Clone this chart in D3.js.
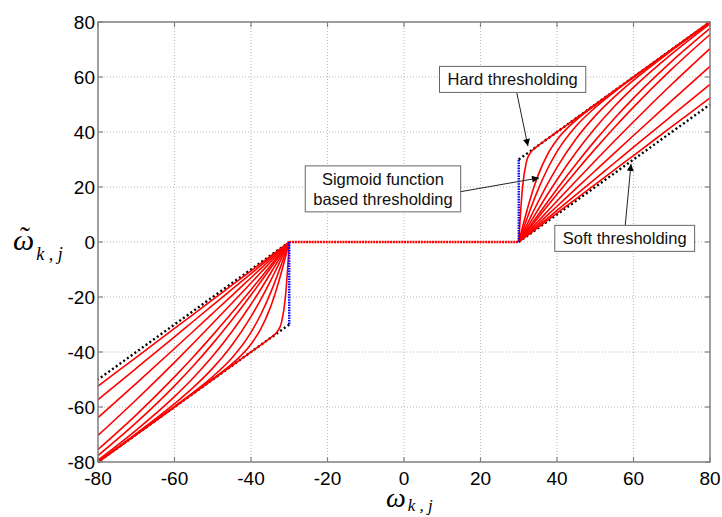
<!DOCTYPE html>
<html>
<head>
<meta charset="utf-8">
<script src="https://cdn.jsdelivr.net/npm/d3@7"></script>
<style>
  body { margin: 0; background: #fff; }
  svg { display: block; }
</style>
</head>
<body>
<div id="chart"></div>
<script>
// Valores (metade positiva; a metade negativa é o espelho)
const tickValues = [-80, -60, -40, -20, 0, 20, 40, 60, 80];
const sampleX = [30, 30.5, 31, 32, 33, 34, 35, 37.5, 40, 45, 50, 55, 60, 70, 80];

const sigmoid1 = [0, 11.25, 20.05, 29.16, 32.34, 33.85, 34.97, 37.5, 40, 45, 50, 55, 60, 70, 80];
const sigmoid2 = [0, 2.75, 5.47, 10.74, 15.66, 20.11, 24.05, 31.78, 37.16, 44.34, 49.85, 54.97, 60, 70, 80];
const sigmoid3 = [0, 2.0, 3.99, 7.92, 11.74, 15.4, 18.86, 26.55, 32.85, 42.16, 48.92, 54.6, 59.85, 69.98, 80];
const sigmoid4 = [0, 1.48, 2.95, 5.88, 8.78, 11.63, 14.42, 21.07, 27.15, 37.53, 45.85, 52.76, 58.81, 69.67, 79.91];
const sigmoid5 = [0, 1.17, 2.35, 4.69, 7.03, 9.34, 11.64, 17.26, 22.66, 32.65, 41.49, 49.28, 56.22, 68.4, 79.34];
const sigmoid6 = [0, 0.98, 1.96, 3.92, 5.87, 7.82, 9.76, 14.57, 19.29, 28.39, 36.95, 44.92, 52.33, 65.7, 77.65];
const sigmoid7 = [0, 0.87, 1.75, 3.5, 5.25, 6.99, 8.73, 13.06, 17.35, 25.75, 33.86, 41.64, 49.05, 62.85, 75.45];
const sigmoid8 = [0, 0.75, 1.5, 2.99, 4.48, 5.98, 7.47, 11.19, 14.91, 22.28, 29.56, 36.72, 43.75, 57.35, 70.33];
const sigmoid9 = [0, 0.65, 1.3, 2.6, 3.9, 5.2, 6.5, 9.75, 12.99, 19.47, 25.92, 32.35, 38.74, 51.4, 63.86];
const sigmoid10 = [0, 0.58, 1.15, 2.3, 3.45, 4.6, 5.75, 8.62, 11.5, 17.25, 22.99, 28.73, 34.47, 45.92, 57.35];
const sigmoid11 = [0, 0.52, 1.05, 2.1, 3.14, 4.19, 5.24, 7.86, 10.48, 15.72, 20.96, 26.2, 31.44, 41.92, 52.4];

const hardX = [30, 80];
const hardY = [30, 80];
const softX = [30, 80];
const softY = [0, 50];
const jumpX = [30, 30];
const jumpY = [0, 30];
const zeroX = [-30, 30];
const zeroY = [0, 0];

const svgW = 722, svgH = 517;
const margin = { top: 22, right: 12, bottom: 55, left: 98 };
const width = svgW - margin.left - margin.right;
const height = svgH - margin.top - margin.bottom;

const svg = d3.select('#chart').append('svg')
  .attr('width', svgW)
  .attr('height', svgH);

const g = svg.append('g')
  .attr('transform', `translate(${margin.left},${margin.top})`);

const x = d3.scaleLinear().domain([-80, 80]).range([0, width]);
const y = d3.scaleLinear().domain([-80, 80]).range([height, 0]);

// grade pontilhada
g.append('g').selectAll('line.vg')
  .data(tickValues.slice(1, -1))
  .enter().append('line')
  .attr('x1', d => x(d)).attr('x2', d => x(d))
  .attr('y1', 0).attr('y2', height)
  .attr('stroke', '#b8b8b8').attr('stroke-width', 1)
  .attr('stroke-dasharray', '1,2');
g.append('g').selectAll('line.hg')
  .data(tickValues.slice(1, -1))
  .enter().append('line')
  .attr('x1', 0).attr('x2', width)
  .attr('y1', d => y(d)).attr('y2', d => y(d))
  .attr('stroke', '#b8b8b8').attr('stroke-width', 1)
  .attr('stroke-dasharray', '1,2');

const toPts = (xs, ys) => xs.map((v, i) => ({ x: v, y: ys[i] }));
const linePos = d3.line().x(d => x(d.x)).y(d => y(d.y)).curve(d3.curveMonotoneX);
const lineNeg = d3.line().x(d => x(-d.x)).y(d => y(-d.y)).curve(d3.curveMonotoneX);
const lineStraight = d3.line().x(d => x(d.x)).y(d => y(d.y));
const lineStraightNeg = d3.line().x(d => x(-d.x)).y(d => y(-d.y));

// limiar duro e suave (pontilhado preto)
[toPts(hardX, hardY), toPts(softX, softY)].forEach(pts => {
  [lineStraight, lineStraightNeg].forEach(fn => {
    g.append('path').attr('d', fn(pts))
      .attr('fill', 'none').attr('stroke', '#000')
      .attr('stroke-width', 2.4).attr('stroke-dasharray', '2,2.6');
  });
});

// curvas sigmoides (vermelho)
const sigmoids = [sigmoid1, sigmoid2, sigmoid3, sigmoid4, sigmoid5, sigmoid6,
  sigmoid7, sigmoid8, sigmoid9, sigmoid10, sigmoid11];
sigmoids.forEach(ys => {
  const pts = toPts(sampleX, ys);
  [linePos, lineNeg].forEach(fn => {
    g.append('path').attr('d', fn(pts))
      .attr('fill', 'none').attr('stroke', '#ff0000')
      .attr('stroke-width', 1.6);
  });
});

g.append('path').attr('d', lineStraight(toPts(zeroX, zeroY)))
  .attr('fill', 'none').attr('stroke', '#ff0000')
  .attr('stroke-width', 2.4).attr('stroke-dasharray', '2,0.8');

// salto vertical (azul)
[lineStraight, lineStraightNeg].forEach(fn => {
  g.append('path').attr('d', fn(toPts(jumpX, jumpY)))
    .attr('fill', 'none').attr('stroke', '#0000ff')
    .attr('stroke-width', 2.4).attr('stroke-dasharray', '1.6,1');
});

// eixos estilo MATLAB
const axisColor = '#808080';
g.append('rect').attr('x', 0).attr('y', 0)
  .attr('width', width).attr('height', height)
  .attr('fill', 'none').attr('stroke', axisColor).attr('stroke-width', 1.5);

const tickLen = 5;
const ticksG = g.append('g').attr('stroke', axisColor).attr('stroke-width', 1.2);
tickValues.forEach(t => {
  ticksG.append('line').attr('x1', x(t)).attr('x2', x(t)).attr('y1', height).attr('y2', height - tickLen);
  ticksG.append('line').attr('x1', x(t)).attr('x2', x(t)).attr('y1', 0).attr('y2', tickLen);
  ticksG.append('line').attr('y1', y(t)).attr('y2', y(t)).attr('x1', 0).attr('x2', tickLen);
  ticksG.append('line').attr('y1', y(t)).attr('y2', y(t)).attr('x1', width).attr('x2', width - tickLen);
});

const tickFont = "'Liberation Sans', Arial, sans-serif";
g.append('g').selectAll('text.yt')
  .data(tickValues).enter().append('text')
  .attr('x', -3).attr('y', d => y(d)).attr('dy', '0.36em')
  .attr('text-anchor', 'end')
  .style('font-family', tickFont).style('font-size', '19px').attr('fill', '#000')
  .text(d => d);
g.append('g').selectAll('text.xt')
  .data(tickValues).enter().append('text')
  .attr('x', d => x(d)).attr('y', height + 16).attr('dy', '0.36em')
  .attr('text-anchor', 'middle')
  .style('font-family', tickFont).style('font-size', '19px').attr('fill', '#000')
  .text(d => d);

// rótulos dos eixos
const serif = "'Liberation Serif', 'Times New Roman', serif";
const xl = svg.append('text')
  .attr('x', 386).attr('y', 507)
  .style('font-family', serif).style('font-style', 'italic').style('font-size', '28px');
xl.append('tspan').text('ω');
xl.append('tspan').attr('dy', 4).attr('dx', 2).style('font-size', '17px').text('k , j');

const yl = svg.append('text')
  .attr('x', 13).attr('y', 250)
  .style('font-family', serif).style('font-style', 'italic').style('font-size', '30px');
yl.append('tspan').text('ω');
yl.append('tspan').attr('dy', 10).attr('dx', 2).style('font-size', '18px').text('k , j');
svg.append('text')
  .attr('x', 25).attr('y', 247)
  .attr('text-anchor', 'middle')
  .style('font-family', serif).style('font-size', '30px')
  .text('˜');

// anotações
const defs = svg.append('defs');
defs.append('marker')
  .attr('id', 'arrow').attr('viewBox', '0 0 10 10')
  .attr('refX', 10).attr('refY', 5)
  .attr('markerWidth', 9).attr('markerHeight', 7)
  .attr('markerUnits', 'userSpaceOnUse')
  .attr('orient', 'auto')
  .append('path').attr('d', 'M0,0 L10,5 L0,10 Z').attr('fill', '#000');

const notes = [
  { lines: ['Hard thresholding'], cx: 28.4, cy: 59.1, fx: 29.5, fy: 54.2, tx: 32.4, ty: 34.9 },
  { lines: ['Sigmoid function', 'based thresholding'], cx: -5.5, cy: 19.3, fx: 14.4, fy: 18.2, tx: 35.3, ty: 23.3 },
  { lines: ['Soft thresholding'], cx: 57.7, cy: 1.3, fx: 57.8, fy: 5.45, tx: 59.35, ty: 28.4 }
];

notes.forEach(n => {
  g.append('line')
    .attr('x1', x(n.fx)).attr('y1', y(n.fy))
    .attr('x2', x(n.tx)).attr('y2', y(n.ty))
    .attr('stroke', '#222').attr('stroke-width', 1)
    .attr('marker-end', 'url(#arrow)');

  const lineH = 20;
  const grp = g.append('g');
  const rect = grp.append('rect').attr('fill', '#fff').attr('stroke', '#666').attr('stroke-width', 1);
  const txt = grp.append('text')
    .attr('text-anchor', 'middle')
    .style('font-family', tickFont).style('font-size', '16.5px').attr('fill', '#111');
  n.lines.forEach((l, i) => {
    txt.append('tspan')
      .attr('x', x(n.cx))
      .attr('y', y(n.cy) + (i - (n.lines.length - 1) / 2) * lineH)
      .attr('dy', '0.36em')
      .text(l);
  });
  const bb = txt.node().getBBox();
  const padX = 8, padY = 4;
  rect.attr('x', bb.x - padX).attr('y', bb.y - padY)
    .attr('width', bb.width + 2 * padX).attr('height', bb.height + 2 * padY);
});
</script>
</body>
</html>
